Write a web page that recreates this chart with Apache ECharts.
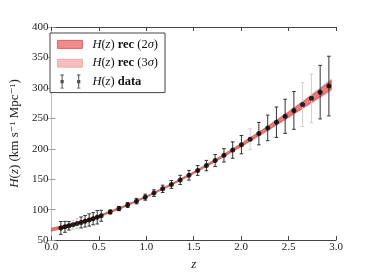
<!DOCTYPE html>
<html><head><meta charset="utf-8">
<script src="https://cdn.jsdelivr.net/npm/echarts@6/dist/echarts.min.js"></script>
<style>html,body{margin:0;padding:0;background:#fff}#c{width:374px;height:276px}</style>
</head><body><div id="c"></div>
<script>
// ---- data ----
const zData = [0.100,0.143,0.185,0.228,0.270,0.313,0.355,0.398,0.440,0.483,0.525,
  0.620,0.712,0.804,0.897,0.989,1.081,1.173,1.265,1.358,1.450,1.542,1.634,1.726,1.819,
  1.911,2.003,2.095,2.187,2.280,2.372,2.464,2.556,2.648,2.741,2.833,2.925];
const hData = [70.0,71.8,73.5,75.3,77.1,79.0,81.0,83.0,85.1,87.5,89.9,
  96.3,101.8,107.7,114.0,120.5,127.2,134.2,141.4,148.9,156.5,164.3,172.4,180.7,189.3,
  197.9,206.8,215.7,224.9,234.3,243.6,253.3,263.0,272.6,282.8,293.0,303.0];
const hErr = [10.5,9.0,7.0,7.5,8.0,9.0,9.5,10.0,10.0,11.0,9.0,
  3.2,3.5,4.0,4.5,5.0,5.5,6.0,6.5,7.5,8.0,8.0,8.5,9.8,11.0,
  13.5,15.0,17.0,18.5,21.0,25.0,28.0,31.0,36.0,40.0,44.0,49.0];
const errLight = [0,0,0,1,1,0,0,0,0,0,0,
  0,0,0,0,0,0,0,0,0,0,0,0,0,0,
  0,0,1,0,0,0,0,0,1,1,0,0];
const bandZ   = [0,0.25,0.5,0.75,1.0,1.25,1.5,1.75,2.0,2.25,2.5,2.75,2.95];
const bandMid = [67.0,76.7,89.2,104.2,121.2,140.2,160.7,182.7,206.0,230.5,256.1,282.8,304.9];
const band2Half = [2.2,1.6,1.2,1.0,1.0,1.1,1.3,1.7,2.2,3.0,4.2,5.8,7.5];
const band3Half = [3.0,2.2,1.7,1.4,1.4,1.5,1.8,2.3,3.0,4.0,5.6,7.7,10.0];
const xTickLabels = ['0.0','0.5','1.0','1.5','2.0','2.5','3.0'];
const yTicks = [50,100,150,200,250,300,350,400];

const SERIF = '"Liberation Serif","DejaVu Serif",serif';
const N2 = 'H(z) rec (2σ)', N3 = 'H(z) rec (3σ)', ND = 'H(z) data';

function bandRender(half, fill, stroke) {
  return function (params, api) {
    if (params.dataIndex !== 0) return null;
    const up = bandZ.map((z, i) => api.coord([z, bandMid[i] + half[i]]));
    const lo = bandZ.map((z, i) => api.coord([z, bandMid[i] - half[i]])).reverse();
    return { type: 'polygon', shape: { points: up.concat(lo) },
      style: { fill: fill, stroke: stroke, lineWidth: 0.7 } };
  };
}

const chart = echarts.init(document.getElementById('c'), null, { renderer: 'canvas' });
const rich = {
  g: { width: 5, fontSize: 12 },
  i: { fontStyle: 'italic', fontFamily: SERIF, fontSize: 12.5, color: '#111' },
  n: { fontFamily: SERIF, fontSize: 12.5, color: '#111' },
  b: { fontWeight: 'bold', fontFamily: SERIF, fontSize: 12.5, color: '#111' }
};
const legendFmt = {};
legendFmt[N2] = '{g| }{i|H}{n|(}{i|z}{n|) }{b|rec}{n| (2}{i|σ}{n|)}';
legendFmt[N3] = '{g| }{i|H}{n|(}{i|z}{n|) }{b|rec}{n| (3}{i|σ}{n|)}';
legendFmt[ND] = '{g| }{i|H}{n|(}{i|z}{n|) }{b|data}';

const errIcon = 'path://M0 0 M25 14 M4.2 0 H5.2 V14 H4.2 Z M3 0 H6.4 V0.8 H3 Z M3 13.2 H6.4 V14 H3 Z M3.1 5.4 H6.3 V8.6 H3.1 Z' +
  ' M20.8 0 H21.8 V14 H20.8 Z M19.6 0 H23 V0.8 H19.6 Z M19.6 13.2 H23 V14 H19.6 Z M19.7 5.4 H22.9 V8.6 H19.7 Z';
const rectIcon = 'path://M0 0 M25 14 M0 3 H25 V11 H0 Z';

chart.setOption({
  animation: false,
  backgroundColor: '#fff',
  grid: { left: 47, top: 27, width: 289, height: 221 },
  legend: {
    left: 50, top: 33, orient: 'vertical',
    padding: [4, 7, 4, 7], itemWidth: 25, itemHeight: 14, itemGap: 4,
    borderColor: '#444', borderWidth: 1, borderRadius: 0, backgroundColor: '#fff',
    selectedMode: false, symbolKeepAspect: false,
    formatter: name => legendFmt[name],
    textStyle: { fontFamily: SERIF, fontSize: 12.5, color: '#111', lineHeight: 14, rich: rich },
    data: [
      { name: N2, icon: rectIcon, itemStyle: { color: 'rgb(238,139,139)', borderColor: 'rgb(200,80,80)', borderWidth: 0.8 } },
      { name: N3, icon: rectIcon, itemStyle: { color: 'rgb(246,190,190)', borderColor: 'rgb(236,160,160)', borderWidth: 0.8 } },
      { name: ND, icon: errIcon, itemStyle: { color: '#222', borderWidth: 0 } }
    ]
  },
  xAxis: [{
    type: 'value', min: 0, max: 3, interval: 0.5, position: 'bottom',
    name: 'z', nameLocation: 'middle', nameGap: 14,
    nameTextStyle: { fontFamily: SERIF, fontStyle: 'italic', fontSize: 13, color: '#222' },
    axisLine: { lineStyle: { color: '#444', width: 1 } },
    axisTick: { inside: true, length: 4, lineStyle: { color: '#444' } },
    axisLabel: { margin: 2, fontFamily: SERIF, fontSize: 11, color: '#222',
      formatter: (v) => xTickLabels[Math.round(v / 0.5)] },
    splitLine: { show: false }
  }, {
    type: 'value', min: 0, max: 3, interval: 0.5, position: 'top',
    axisLine: { lineStyle: { color: '#444', width: 1 } },
    axisTick: { inside: true, length: 4, lineStyle: { color: '#444' } },
    axisLabel: { show: false }, splitLine: { show: false }
  }],
  yAxis: [{
    type: 'value', min: 50, max: 400, interval: 50, position: 'left',
    name: '{i|H}{n|(}{i|z}{n|) (km s⁻¹ Mpc⁻¹)}', nameLocation: 'middle', nameGap: 23, nameRotate: 90,
    nameTextStyle: { fontFamily: SERIF, fontSize: 13, color: '#222',
      rich: { i: { fontStyle: 'italic', fontFamily: SERIF, fontSize: 13, color: '#222' },
              n: { fontFamily: SERIF, fontSize: 13, color: '#222' } } },
    axisLine: { lineStyle: { color: '#aaa', width: 1 } },
    axisTick: { inside: true, length: 4, lineStyle: { color: '#999' } },
    axisLabel: { margin: 3, fontFamily: SERIF, fontSize: 11, color: '#222',
      formatter: (v) => (yTicks.indexOf(v) >= 0 ? String(v) : '') },
    splitLine: { show: false }
  }, {
    type: 'value', min: 50, max: 400, interval: 50, position: 'right',
    axisLine: { lineStyle: { color: '#bbb', width: 1 } },
    axisTick: { inside: true, length: 4, lineStyle: { color: '#aaa' } },
    axisLabel: { show: false }, splitLine: { show: false }
  }],
  series: [
    { name: N3, type: 'custom', xAxisIndex: 0, yAxisIndex: 0, encode: { x: 0, y: 1 },
      itemStyle: { color: 'rgb(246,190,190)' },
      renderItem: bandRender(band3Half, 'rgba(240,150,150,0.45)', 'rgba(235,140,140,0.4)'),
      data: bandZ.map((z, i) => [z, bandMid[i]]), z: 1 },
    { name: N2, type: 'custom', xAxisIndex: 0, yAxisIndex: 0, encode: { x: 0, y: 1 },
      itemStyle: { color: 'rgb(238,139,139)' },
      renderItem: bandRender(band2Half, 'rgba(230,95,95,0.75)', 'rgba(170,55,55,0.75)'),
      data: bandZ.map((z, i) => [z, bandMid[i]]), z: 2 },
    { name: 'err', type: 'custom', xAxisIndex: 0, yAxisIndex: 0, encode: { x: 0, y: 1 },
      renderItem: function (params, api) {
        const x = api.value(0), y = api.value(1), e = api.value(2), lt = api.value(3);
        const p1 = api.coord([x, y + e]), p0 = api.coord([x, y - e]);
        const c = lt ? '#cfcfcf' : '#333';
        const w = 1.8;
        return { type: 'group', children: [
          { type: 'line', shape: { x1: p1[0], y1: p1[1], x2: p0[0], y2: p0[1] }, style: { stroke: c, lineWidth: 1 } },
          { type: 'line', shape: { x1: p1[0] - w, y1: p1[1], x2: p1[0] + w, y2: p1[1] }, style: { stroke: c, lineWidth: 1 } },
          { type: 'line', shape: { x1: p0[0] - w, y1: p0[1], x2: p0[0] + w, y2: p0[1] }, style: { stroke: c, lineWidth: 1 } }
        ] };
      },
      data: zData.map((z, i) => [z, hData[i], hErr[i], errLight[i]]), z: 3 },
    { name: ND, type: 'scatter', xAxisIndex: 0, yAxisIndex: 0, symbol: 'circle', symbolSize: 5,
      itemStyle: { color: '#000' },
      data: zData.map((z, i) => [z, hData[i]]), z: 4 }
  ]
});
</script></body></html>
